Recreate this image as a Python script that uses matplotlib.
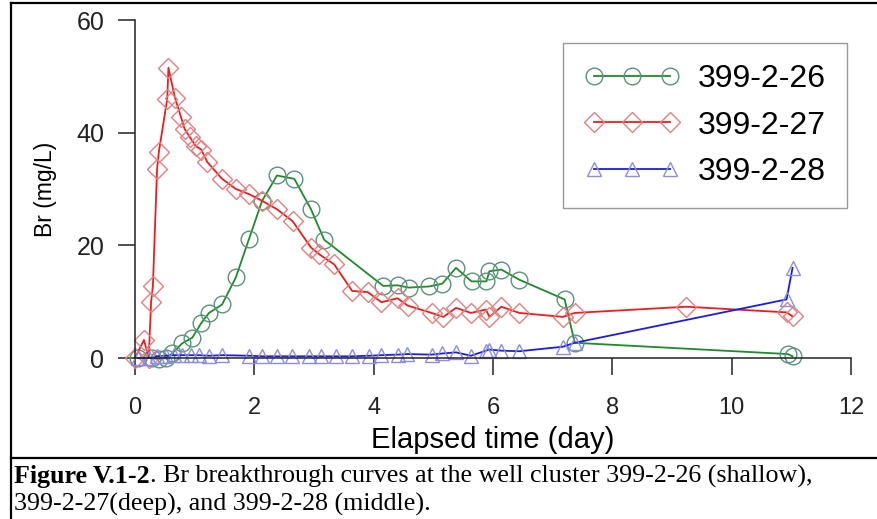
import matplotlib
matplotlib.use("Agg")
import matplotlib.pyplot as plt
from matplotlib.lines import Line2D

# Br breakthrough data
t_26 = [0.05, 0.28, 0.40, 0.52, 0.62, 0.79, 0.96, 1.11, 1.24, 1.46, 1.69, 1.91,
        2.13, 2.38, 2.67, 2.95, 3.17, 4.16, 4.40, 4.59, 4.93, 5.15, 5.38, 5.64,
        5.89, 5.94, 6.14, 6.44, 7.20, 7.37, 10.94, 11.02]
br_26 = [0.0, 0.0, -0.2, 0.0, 0.8, 2.6, 3.6, 6.2, 8.0, 9.5, 14.3, 21.1,
         27.9, 32.4, 31.8, 26.4, 21.0, 12.8, 12.9, 12.5, 12.7, 13.2, 16.0, 13.6,
         13.6, 15.4, 15.7, 13.9, 10.4, 2.7, 0.7, 0.3]

t_27 = [0.0, 0.15, 0.23, 0.27, 0.30, 0.37, 0.40, 0.54, 0.56, 0.67, 0.77, 0.83,
        0.92, 1.02, 1.11, 1.21, 1.46, 1.69, 1.91, 2.13, 2.38, 2.64, 2.95, 3.09,
        3.34, 3.64, 3.90, 4.13, 4.40, 4.57, 4.97, 5.17, 5.38, 5.63, 5.88, 5.94,
        6.14, 6.44, 7.17, 7.37, 9.24, 10.92, 11.02]
br_27 = [0.0, 3.2, 0.0, 10.0, 12.8, 33.6, 36.6, 46.0, 51.5, 46.2, 42.8, 40.7,
         39.2, 37.6, 37.0, 34.8, 31.8, 30.0, 29.1, 27.9, 26.4, 24.3, 19.6, 18.4,
         16.6, 11.9, 11.7, 9.9, 10.6, 9.3, 8.0, 7.3, 8.9, 8.0, 8.6, 7.3,
         9.1, 8.0, 7.3, 8.0, 9.1, 8.1, 7.4]

t_28 = [0.05, 0.23, 0.37, 0.52, 0.65, 0.79, 0.94, 1.07, 1.24, 1.46, 1.91, 2.13,
        2.38, 2.63, 2.92, 3.12, 3.37, 3.64, 3.93, 4.13, 4.40, 4.56, 4.97, 5.15,
        5.38, 5.63, 5.88, 5.94, 6.14, 6.44, 7.17, 7.37, 10.92, 11.02]
br_28 = [0.0, 0.0, 0.3, 0.4, 0.5, 0.5, 0.5, 0.5, 0.4, 0.5, 0.4, 0.3,
         0.3, 0.3, 0.3, 0.3, 0.3, 0.3, 0.4, 0.5, 0.6, 0.7, 0.6, 0.8,
         1.0, 0.4, 1.3, 1.5, 1.3, 1.2, 2.0, 2.7, 10.4, 16.0]

labels = ["399-2-26", "399-2-27", "399-2-28"]
x_ticks = [0, 2, 4, 6, 8, 10, 12]
y_ticks = [0, 20, 40, 60]

caption_bold = "Figure V.1-2"
caption_rest = ". Br breakthrough curves at the well cluster 399-2-26 (shallow),"
caption_line2 = "399-2-27(deep), and 399-2-28 (middle)."

plt.rcParams["font.family"] = ["Liberation Sans", "DejaVu Sans"]

fig = plt.figure(figsize=(8.78, 5.19), dpi=100)
ax = fig.add_axes([135 / 878, 1 - 358 / 519, 716 / 878, 338 / 519])

ax.plot(t_26, br_26, "-o", color="#1f8a2a", lw=1.3, mfc="none", mec="#5b9279",
        ms=12, mew=1.0, clip_on=False, label=labels[0])
ax.plot(t_27, br_27, "-D", color="#ee1c1c", lw=1.3, mfc="none", mec="#e48080",
        ms=10, mew=1.0, clip_on=False, label=labels[1])
ax.plot(t_28, br_28, "-^", color="#1c1ce0", lw=1.3, mfc="none", mec="#8c8ce4",
        ms=9.5, mew=1.0, clip_on=False, label=labels[2])

ax.set_xlim(0, 12)
ax.set_ylim(0, 60)
ax.set_xticks(x_ticks)
ax.set_yticks(y_ticks)
ax.spines["top"].set_visible(False)
ax.spines["right"].set_visible(False)
for s in ("left", "bottom"):
    ax.spines[s].set_linewidth(1.1)
    ax.spines[s].set_color("#222222")
ax.tick_params(axis="x", length=12, width=1.1, pad=16, labelsize=17, colors="#222222")
ax.tick_params(axis="y", length=12, width=1.1, pad=10, labelsize=18, colors="#222222")
ax.set_xlabel("Elapsed time (day)", fontsize=21, labelpad=5)
ax.set_ylabel("Br (mg/L)", fontsize=16.5, labelpad=14)

leg = ax.legend(loc="upper right", bbox_to_anchor=(0.994, 0.932), fontsize=23,
                numpoints=3, handlelength=3.0, handletextpad=0.55,
                borderpad=0.66, labelspacing=0.52, borderaxespad=0,
                fancybox=False, framealpha=1, edgecolor="#999999")
leg.get_frame().set_linewidth(1.0)

# table-style border and caption box
def fline(x0, y0, x1, y1):
    fig.add_artist(Line2D([x0 / 878, x1 / 878], [1 - y0 / 519, 1 - y1 / 519],
                          color="black", lw=1.6))

fline(11, 3, 878, 3)
fline(11, 3, 11, 519)
fline(11, 458, 878, 458)

cap_y1 = 1 - 483 / 519
cap_y2 = 1 - 511 / 519
t1 = fig.text(14 / 878, cap_y1, caption_bold, fontsize=18.7, fontweight="bold",
              family="Liberation Serif", va="baseline")
fig.canvas.draw()
bb = t1.get_window_extent(fig.canvas.get_renderer())
fig.text(bb.x1 / fig.bbox.width, cap_y1, caption_rest, fontsize=18.7,
         family="Liberation Serif", va="baseline")
fig.text(14 / 878, cap_y2, caption_line2, fontsize=18.7,
         family="Liberation Serif", va="baseline")

fig.savefig("out.png", dpi=100)
